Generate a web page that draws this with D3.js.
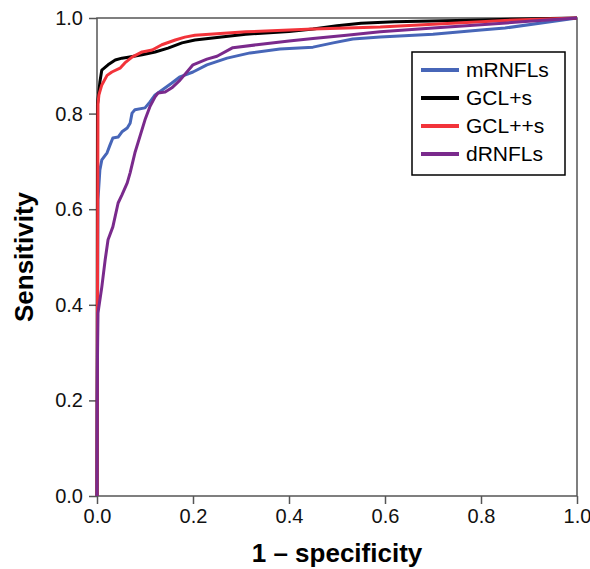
<!DOCTYPE html>
<html>
<head>
<meta charset="utf-8">
<script src="https://cdn.jsdelivr.net/npm/d3@7.9.0/dist/d3.min.js"></script>
<style>
  body { margin: 0; background: #fff; }
  svg { display: block; font-family: Arial, 'Liberation Sans', sans-serif; }
</style>
</head>
<body>
<svg id="chart" width="590" height="569"></svg>
<script>
// ROC curve points: [1 - specificity, sensitivity]
const mRNFLs = [
  [0, 0], [0.002, 0.62], [0.006, 0.682], [0.01, 0.703], [0.021, 0.718], [0.027, 0.734],
  [0.033, 0.749], [0.044, 0.751], [0.052, 0.762], [0.063, 0.77], [0.069, 0.78], [0.073, 0.801],
  [0.079, 0.808], [0.1, 0.812], [0.11, 0.824], [0.121, 0.839], [0.135, 0.849], [0.156, 0.864],
  [0.173, 0.877], [0.2, 0.887], [0.229, 0.902], [0.271, 0.916], [0.319, 0.927], [0.381, 0.935],
  [0.45, 0.939], [0.492, 0.948], [0.533, 0.956], [0.59, 0.96], [0.7, 0.966], [0.8, 0.975],
  [0.85, 0.979], [1, 1]
];
const gclPlus = [
  [0, 0], [0.001, 0.82], [0.006, 0.866], [0.01, 0.891], [0.023, 0.902], [0.038, 0.912],
  [0.052, 0.916], [0.065, 0.918], [0.094, 0.923], [0.121, 0.929], [0.148, 0.937], [0.177, 0.948],
  [0.204, 0.954], [0.31, 0.966], [0.4, 0.972], [0.45, 0.977], [0.5, 0.984], [0.55, 0.989],
  [0.62, 0.992], [0.8, 0.996], [1, 1]
];
const gclPlusPlus = [
  [0, 0], [0.002, 0.82], [0.004, 0.839], [0.01, 0.86], [0.021, 0.88], [0.031, 0.887],
  [0.048, 0.895], [0.058, 0.906], [0.073, 0.918], [0.094, 0.929], [0.115, 0.933], [0.135, 0.944],
  [0.163, 0.954], [0.183, 0.96], [0.204, 0.964], [0.31, 0.971], [0.45, 0.977], [0.59, 0.981],
  [0.7, 0.987], [0.85, 0.995], [1, 1]
];
const dRNFLs = [
  [0, 0], [0.0005, 0.2], [0.001, 0.29], [0.002, 0.383], [0.01, 0.437], [0.017, 0.494],
  [0.023, 0.536], [0.033, 0.563], [0.044, 0.613], [0.052, 0.63], [0.063, 0.655], [0.069, 0.676],
  [0.079, 0.718], [0.1, 0.787], [0.11, 0.814], [0.121, 0.835], [0.127, 0.843], [0.142, 0.845],
  [0.156, 0.854], [0.173, 0.87], [0.2, 0.902], [0.229, 0.914], [0.25, 0.92], [0.283, 0.938],
  [0.333, 0.944], [0.4, 0.952], [0.45, 0.957], [0.52, 0.964], [0.59, 0.971], [0.7, 0.979],
  [0.8, 0.986], [0.9, 0.993], [1, 1]
];

const seriesNames = ['mRNFLs', 'GCL+s', 'GCL++s', 'dRNFLs'];
const seriesData = [mRNFLs, gclPlus, gclPlusPlus, dRNFLs];
const seriesColors = ['#4766b8', '#000000', '#f2333a', '#7a2a8c'];
const tickValues = [0, 0.2, 0.4, 0.6, 0.8, 1.0];

// Plot area
const margin = { top: 18, right: 13, bottom: 73, left: 97 };
const width = 590 - margin.left - margin.right;
const height = 569 - margin.top - margin.bottom;

const svg = d3.select('#chart');
const g = svg.append('g').attr('transform', `translate(${margin.left},${margin.top})`);

const x = d3.scaleLinear().domain([0, 1]).range([0, width]);
const y = d3.scaleLinear().domain([0, 1]).range([height, 0]);

// Axes
const xAxis = g.append('g')
  .attr('transform', `translate(0,${height})`)
  .call(d3.axisBottom(x).tickValues(tickValues).tickFormat(d3.format('.1f')).tickSizeOuter(0).tickSize(8).tickPadding(5));
const yAxis = g.append('g')
  .call(d3.axisLeft(y).tickValues(tickValues).tickFormat(d3.format('.1f')).tickSizeOuter(0).tickSize(8).tickPadding(6));

[xAxis, yAxis].forEach((ax) => {
  ax.select('.domain').remove();
  ax.selectAll('line').attr('stroke', '#555').attr('stroke-width', 1.5);
  ax.selectAll('text').attr('font-size', 20).attr('fill', '#111').attr('font-family', 'Arial, Liberation Sans, sans-serif');
});

// Frame around the plot
g.append('rect')
  .attr('width', width)
  .attr('height', height)
  .attr('fill', 'none')
  .attr('stroke', '#555')
  .attr('stroke-width', 1.5);

// ROC lines
const line = d3.line().x((d) => x(d[0])).y((d) => y(d[1]));
seriesData.forEach((data, i) => {
  g.append('path')
    .datum(data)
    .attr('d', line)
    .attr('fill', 'none')
    .attr('stroke', seriesColors[i])
    .attr('stroke-width', 3)
    .attr('stroke-linejoin', 'round');
});

// Legend
const legend = svg.append('g').attr('transform', 'translate(412,52)');
legend.append('rect')
  .attr('width', 153)
  .attr('height', 123)
  .attr('fill', '#fff')
  .attr('stroke', '#000')
  .attr('stroke-width', 1.5);
seriesNames.forEach((name, i) => {
  const row = legend.append('g').attr('transform', `translate(0,${18 + i * 28})`);
  row.append('line')
    .attr('x1', 9).attr('x2', 47)
    .attr('stroke', seriesColors[i])
    .attr('stroke-width', 4);
  row.append('text')
    .attr('x', 54)
    .attr('dy', '0.35em')
    .attr('font-size', 21)
    .attr('fill', '#000')
    .text(name);
});

// Axis titles
svg.append('text')
  .attr('x', margin.left + width / 2)
  .attr('y', 562)
  .attr('text-anchor', 'middle')
  .attr('font-size', 26)
  .attr('font-weight', 'bold')
  .text('1 – specificity');

svg.append('text')
  .attr('transform', `translate(33,${margin.top + height / 2}) rotate(-90)`)
  .attr('text-anchor', 'middle')
  .attr('font-size', 26)
  .attr('font-weight', 'bold')
  .text('Sensitivity');
</script>
</body>
</html>
